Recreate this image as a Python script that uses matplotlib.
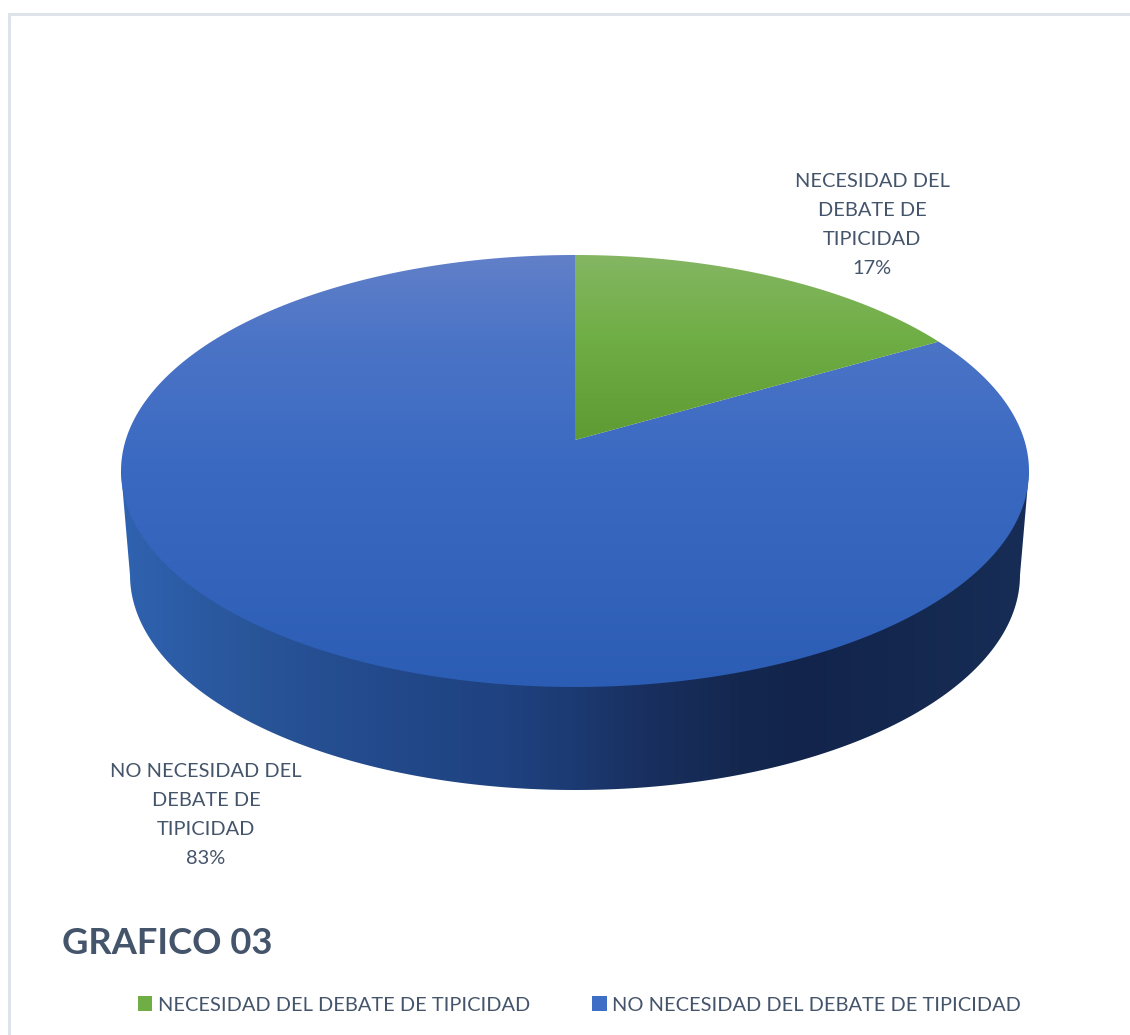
import numpy as np
import matplotlib
matplotlib.use("Agg")
import matplotlib.pyplot as plt
from matplotlib.colors import LinearSegmentedColormap
from matplotlib.patches import Patch, PathPatch
from matplotlib.path import Path

categories = ["NECESIDAD DEL DEBATE DE TIPICIDAD", "NO NECESIDAD DEL DEBATE DE TIPICIDAD"]
values = [16.7, 83.3]
slice_labels = ["NECESIDAD DEL\nDEBATE DE\nTIPICIDAD", "NO NECESIDAD DEL\nDEBATE DE\nTIPICIDAD"]
chart_title = "GRAFICO 03"

text_col = "#44546A"
plt.rcParams["font.family"] = ["Lato", "DejaVu Sans"]

# top of the pie seen in perspective, the centre is not the middle of the ellipse
cx, rx, ry, cy = 575, 454, 216, 471
apex_y = 440
k = (255 + 687 - 2 * apex_y) / (687 - 255)
a = 255 * (1 + k) - apex_y
sx = rx * np.sqrt(1 - k ** 2)


def project(theta):
    x, y = np.sin(theta), np.cos(theta)
    d = 1 + k * y
    return cx + sx * x / d, (a * y + apex_y) / d


def fill_gradient(ax, pts, stops, extent, horizontal=False):
    path = Path(np.vstack([pts, pts[0]]), closed=True)
    patch = PathPatch(path, fc="none", ec="none")
    ax.add_patch(patch)
    cmap = LinearSegmentedColormap.from_list("g", stops)
    grad = np.linspace(0, 1, 256)
    grad = grad.reshape(1, -1) if horizontal else grad.reshape(-1, 1)
    im = ax.imshow(grad, cmap=cmap, extent=extent, aspect="auto", origin="upper",
                   interpolation="bilinear")
    im.set_clip_path(patch)


fig = plt.figure(figsize=(11.3, 10.35), dpi=100)
ax = fig.add_axes([0, 0, 1, 1])

# side wall
bx, brx, bry, by = 575, 445, 215, 575
t = np.linspace(np.pi, 0, 300)
wall = np.column_stack([bx + brx * np.cos(t), by + bry * np.sin(t)])
wall = np.vstack([[[cx - rx, cy]], wall, [[cx + rx, cy]]])
wall_stops = [(0, "#2F62B0"), (0.14, "#295599"), (0.28, "#234A8C"), (0.42, "#1F4280"),
              (0.5, "#1C3A72"), (0.58, "#192F5F"), (0.68, "#14284F"), (0.75, "#12244B"), (1, "#172D55")]
fill_gradient(ax, wall, wall_stops, (cx - rx, cx + rx, 800, 460), horizontal=True)

# top faces, the angles come from the values
blue_stops = [(0, "#6280C9"), (0.2, "#4B74C6"), (0.5, "#3A69C2"), (1, "#2C5DB4")]
green_stops = [(0, "#85B663"), (0.45, "#6FAE45"), (1, "#5E9B32")]
angles = np.cumsum([0] + values) / sum(values) * 2 * np.pi
slice_stops = [green_stops, blue_stops]
slice_ext = [(cx - rx, cx + rx, 442, 254), (cx - rx, cx + rx, 688, 254)]
for i in [1, 0]:
    th = np.linspace(angles[i], angles[i + 1], 400)
    px, py = project(th)
    pts = np.vstack([[[cx, apex_y]], np.column_stack([px, py])])
    fill_gradient(ax, pts, slice_stops[i], slice_ext[i])

# data labels
ax.text(872, 225, slice_labels[0] + f"\n{values[0]:.0f}%", ha="center", va="center", fontsize=14.4,
        color=text_col, linespacing=1.87)
ax.text(206, 815, slice_labels[1] + f"\n{values[1]:.0f}%", ha="center", va="center", fontsize=14.4,
        color=text_col, linespacing=1.87)

ax.text(62, 953.5, chart_title, ha="left", va="baseline", fontsize=26.2, fontweight="bold", color=text_col)

handles = [Patch(fc="#6FAE45", ec="none", label=categories[0]),
           Patch(fc="#3F6EC6", ec="none", label=categories[1])]
ax.legend(handles=handles, ncol=2, loc="center left", bbox_to_anchor=(138 / 1130, 1 - 1005 / 1035),
          frameon=False, fontsize=14.4, labelcolor=text_col, handlelength=0.72, handleheight=0.72,
          handletextpad=0.28, columnspacing=3.1, borderaxespad=0, borderpad=0)

# chart frame
ax.plot([9, 9, 1130], [1035, 13.5, 13.5], color="#DEE3EA", lw=2.2, solid_joinstyle="miter")

ax.set_xlim(0, 1130)
ax.set_ylim(1035, 0)
ax.axis("off")
fig.savefig("out.png", dpi=100)
